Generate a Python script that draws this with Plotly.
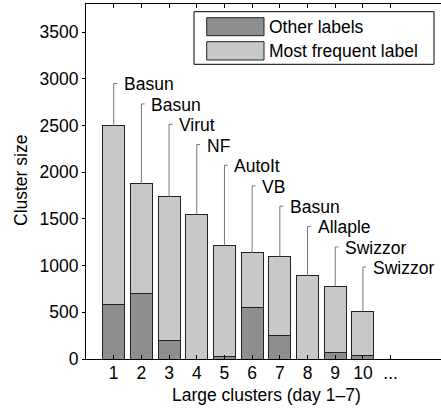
import plotly.graph_objects as go

# ---- data ----
clusters = [1, 2, 3, 4, 5, 6, 7, 8, 9, 10]
tick_vals = [1, 2, 3, 4, 5, 6, 7, 8, 9, 10, 11]
tick_text = ["1", "2", "3", "4", "5", "6", "7", "8", "9", "10", "..."]
y_ticks = [0, 500, 1000, 1500, 2000, 2500, 3000, 3500]
other_labels = [585, 705, 200, 0, 28, 550, 252, 0, 73, 37]
most_frequent = [1910, 1170, 1537, 1551, 1185, 585, 844, 889, 706, 472]
family_names = ["Basun", "Basun", "Virut", "NF", "AutoIt", "VB", "Basun",
                "Allaple", "Swizzor", "Swizzor"]
label_levels = [2950, 2730, 2512, 2295, 2074, 1853, 1636, 1419, 1199, 985]
series_names = ["Other labels", "Most frequent label"]
x_title = "Large clusters (day 1\u20137)"
y_title = "Cluster size"

FONT = "Liberation Sans, Arial, Helvetica, sans-serif"
FS = 17.5
DARK = "#8e8e8e"
LIGHT = "#c8c8c8"
EDGE = "#222222"

W, H = 441, 410
ML, MR, MT, MB = 86, 0, 4, 51
PW, PH = W - ML - MR, H - MT - MB


def px_x(px):
    return (px - ML) / PW


def px_y(py):
    return (H - MB - py) / PH


fig = go.Figure()
fig.add_trace(go.Bar(x=clusters, y=other_labels, name=series_names[0],
                     marker=dict(color=DARK, line=dict(color=EDGE, width=1)),
                     width=0.8))
fig.add_trace(go.Bar(x=clusters, y=most_frequent, name=series_names[1],
                     marker=dict(color=LIGHT, line=dict(color=EDGE, width=1)),
                     width=0.8))

# leader lines
totals = [o + m for o, m in zip(other_labels, most_frequent)]
lx, ly = [], []
for c, t, lv in zip(clusters, totals, label_levels):
    lx += [c, c, c + 0.12, None]
    ly += [t, lv, lv, None]
fig.add_trace(go.Scatter(x=lx, y=ly, mode="lines",
                         line=dict(color="#777777", width=1),
                         hoverinfo="skip", showlegend=False))

for c, name, lv in zip(clusters, family_names, label_levels):
    fig.add_annotation(x=c, y=lv, text=name, showarrow=False,
                       xanchor="left", yanchor="middle", xshift=8, yshift=-1,
                       font=dict(family=FONT, size=FS, color="black"))

# manual legend
shapes = []
shapes.append(dict(type="rect", xref="paper", yref="paper",
                   x0=px_x(194), x1=px_x(434), y0=px_y(64.3), y1=px_y(11.7),
                   line=dict(color="black", width=1), fillcolor="white",
                   layer="above"))
rows = [(17.7, 35.7, DARK), (41.7, 60.0, LIGHT)]
for (y0, y1, col), nm in zip(rows, series_names):
    shapes.append(dict(type="rect", xref="paper", yref="paper",
                       x0=px_x(206.7), x1=px_x(264), y0=px_y(y1), y1=px_y(y0),
                       line=dict(color=EDGE, width=1), fillcolor=col,
                       layer="above"))
    fig.add_annotation(xref="paper", yref="paper", x=px_x(267),
                       y=px_y((y0 + y1) / 2), text=nm, showarrow=False,
                       xanchor="left", yanchor="middle",
                       font=dict(family=FONT, size=FS, color="black"))

# axis titles as annotations for exact placement
fig.add_annotation(xref="paper", yref="paper", x=px_x(266), y=px_y(394.5),
                   text=x_title, showarrow=False, xanchor="center",
                   yanchor="middle", font=dict(family=FONT, size=FS, color="black"))
fig.add_annotation(xref="paper", yref="paper", x=px_x(21), y=px_y(181),
                   text=y_title, showarrow=False, textangle=-90,
                   xanchor="center", yanchor="middle",
                   font=dict(family=FONT, size=FS, color="black"))

fig.update_layout(
    width=W, height=H,
    margin=dict(l=ML, r=MR, t=MT, b=MB, pad=0, autoexpand=False),
    barmode="stack",
    showlegend=False,
    plot_bgcolor="white", paper_bgcolor="white",
    font=dict(family=FONT, size=FS, color="black"),
    shapes=shapes,
    bargap=0.2,
)
fig.update_xaxes(range=[0, 12.82], tickvals=tick_vals, ticktext=tick_text,
                 ticks="inside", ticklen=4, tickcolor="black",
                 showline=True, linecolor="black", linewidth=1,
                 mirror="ticks", showgrid=False, zeroline=False,
                 ticklabelstandoff=-2,
                 automargin=False, tickfont=dict(size=FS))
fig.update_yaxes(range=[0, 3800], tickvals=y_ticks,
                 ticks="outside", ticklen=3, tickcolor="black",
                 showline=True, linecolor="black", linewidth=1,
                 mirror=False, showgrid=False, zeroline=False,
                 automargin=False, tickfont=dict(size=FS))

fig.write_html("out.html",
               config={"displayModeBar": False},
               post_script="document.body.style.margin='0px';"
                           "document.body.style.overflow='hidden';")
